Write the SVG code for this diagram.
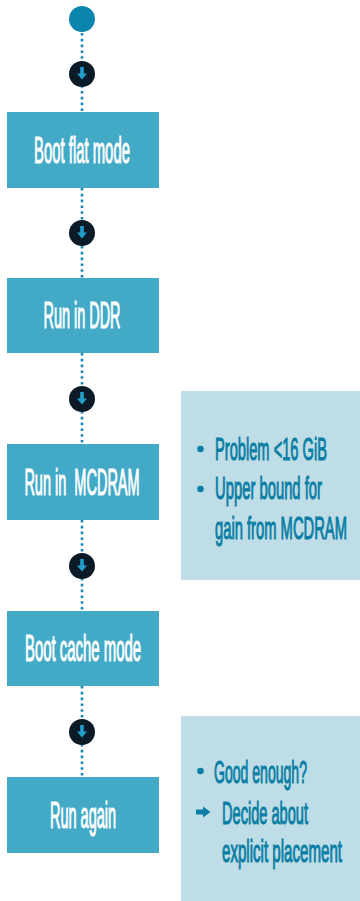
<svg xmlns="http://www.w3.org/2000/svg" width="360" height="901" viewBox="0 0 360 901">
  <style>
    .step { fill: #42a9c7; }
    .stxt { font-family: "Liberation Sans", Arial, sans-serif; font-size: 36px; fill: #ffffff; stroke: #ffffff; stroke-width: 0.9; vector-effect: non-scaling-stroke; text-anchor: middle; }
    .note { fill: #bedde7; }
    .ntxt { font-family: "Liberation Sans", Arial, sans-serif; font-size: 31px; fill: #0a7ea4; stroke: #0a7ea4; stroke-width: 0.9; vector-effect: non-scaling-stroke; }
    .dots { stroke: #1a87b0; stroke-width: 2.6; stroke-dasharray: 2.6 3.2; fill: none; }
    .bul { fill: #0a7ea4; }
  </style>
  <defs>
    <g id="badge">
      <circle cx="0" cy="0" r="13" fill="#0b1a27"/>
      <rect x="-1.8" y="-7" width="3.6" height="7" fill="#239fcc"/>
      <polygon points="-5,-0.5 5,-0.5 0,5.5" fill="#239fcc"/>
    </g>
  </defs>

  <g id="connectors">
    <line class="dots" x1="82" y1="33" x2="82" y2="112"/>
    <line class="dots" x1="82" y1="188" x2="82" y2="278"/>
    <line class="dots" x1="82" y1="353" x2="82" y2="444"/>
    <line class="dots" x1="82" y1="520" x2="82" y2="611"/>
    <line class="dots" x1="82" y1="686" x2="82" y2="777"/>
    <use href="#badge" x="82" y="74"/>
    <use href="#badge" x="82" y="233"/>
    <use href="#badge" x="82" y="399"/>
    <use href="#badge" x="82" y="566"/>
    <use href="#badge" x="82" y="732"/>
  </g>

  <g id="start">
    <circle cx="82" cy="19" r="13" fill="#0a86ae"/>
  </g>

  <g id="boot-flat">
    <rect class="step" x="7" y="112" width="152" height="76"/>
    <text class="stxt" transform="translate(82,162.5) scale(0.45,1)" textLength="213" lengthAdjust="spacingAndGlyphs">Boot flat mode</text>
  </g>

  <g id="run-ddr">
    <rect class="step" x="7" y="278" width="152" height="75"/>
    <text class="stxt" transform="translate(82,328) scale(0.45,1)" textLength="171" lengthAdjust="spacingAndGlyphs">Run in DDR</text>
  </g>

  <g id="run-mcdram">
    <rect class="step" x="7" y="444" width="152" height="76"/>
    <text class="stxt" transform="translate(82,494.5) scale(0.45,1)" textLength="256" lengthAdjust="spacingAndGlyphs" xml:space="preserve">Run in  MCDRAM</text>
  </g>

  <g id="boot-cache">
    <rect class="step" x="7" y="611" width="152" height="75"/>
    <text class="stxt" transform="translate(83,661) scale(0.45,1)" textLength="258" lengthAdjust="spacingAndGlyphs">Boot cache mode</text>
  </g>

  <g id="run-again">
    <rect class="step" x="7" y="777" width="152" height="76"/>
    <text class="stxt" transform="translate(83,827.5) scale(0.45,1)" textLength="147" lengthAdjust="spacingAndGlyphs">Run again</text>
  </g>

  <g id="note-mcdram">
    <rect class="note" x="181" y="391" width="179" height="189"/>
    <circle class="bul" cx="200.5" cy="449" r="3.3"/>
    <text class="ntxt" transform="translate(215,460) scale(0.5,1)" textLength="224" lengthAdjust="spacingAndGlyphs">Problem &lt;16 GiB</text>
    <circle class="bul" cx="200.5" cy="489" r="3.3"/>
    <text class="ntxt" transform="translate(215,499) scale(0.5,1)" textLength="214" lengthAdjust="spacingAndGlyphs">Upper bound for</text>
    <text class="ntxt" transform="translate(215,539) scale(0.5,1)" textLength="264" lengthAdjust="spacingAndGlyphs">gain from MCDRAM</text>
  </g>

  <g id="note-again">
    <rect class="note" x="181" y="716" width="179" height="185"/>
    <circle class="bul" cx="200.5" cy="771" r="3.3"/>
    <text class="ntxt" transform="translate(214,783) scale(0.5,1)" textLength="186" lengthAdjust="spacingAndGlyphs">Good enough?</text>
    <polygon class="bul" points="196,809.5 203,809.5 203,806.5 210.5,812 203,817.5 203,814.5 196,814.5"/>
    <text class="ntxt" transform="translate(222,824) scale(0.5,1)" textLength="172" lengthAdjust="spacingAndGlyphs">Decide about</text>
    <text class="ntxt" transform="translate(222,862) scale(0.5,1)" textLength="240" lengthAdjust="spacingAndGlyphs">explicit placement</text>
  </g>
</svg>
